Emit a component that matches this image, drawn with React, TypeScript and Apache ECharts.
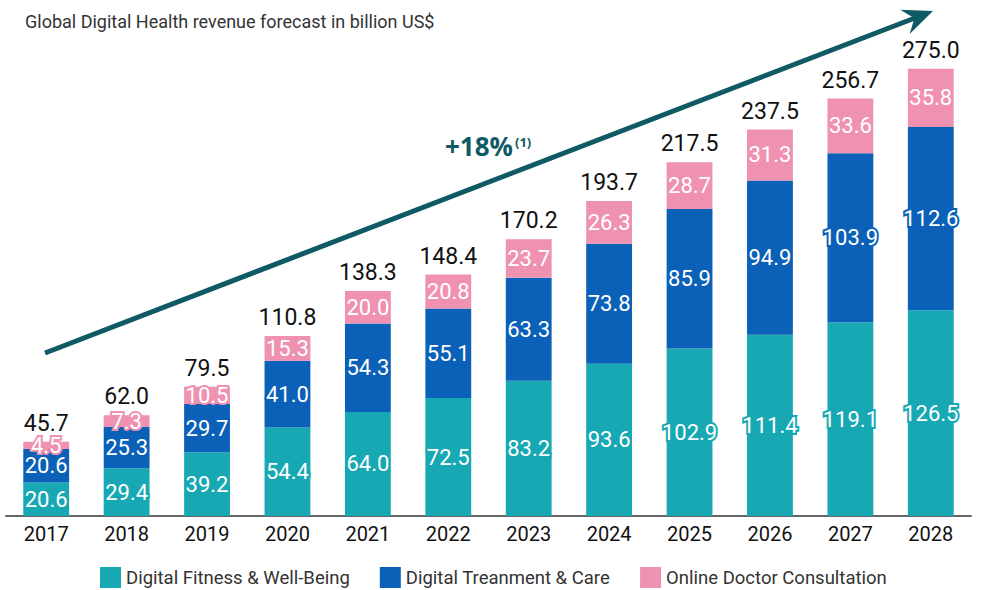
import React, { useEffect, useRef } from "react";
import * as echarts from "echarts";

const years = ["2017", "2018", "2019", "2020", "2021", "2022", "2023", "2024", "2025", "2026", "2027", "2028"];
const fitness = [20.6, 29.4, 39.2, 54.4, 64.0, 72.5, 83.2, 93.6, 102.9, 111.4, 119.1, 126.5];
const treatment = [20.6, 25.3, 29.7, 41.0, 54.3, 55.1, 63.3, 73.8, 85.9, 94.9, 103.9, 112.6];
const consultation = [4.5, 7.3, 10.5, 15.3, 20.0, 20.8, 23.7, 26.3, 28.7, 31.3, 33.6, 35.8];
const totals = [45.7, 62.0, 79.5, 110.8, 138.3, 148.4, 170.2, 193.7, 217.5, 237.5, 256.7, 275.0];

const TEAL = "#17A8B4";
const BLUE = "#0A61B7";
const PINK = "#EF91B0";
const ARROW = "#0F5A64";

export default function App() {
  const ref = useRef<HTMLDivElement>(null);
  useEffect(() => {
    document.body.style.margin = "0";
    const chart = echarts.init(ref.current!, null, { renderer: "svg" });
    const inner = (color: string) => ({
      show: true,
      position: "inside",
      color: "#fff",
      fontSize: 22,
      fontFamily: "Roboto",
      textBorderColor: color,
      textBorderWidth: 4,
      formatter: (p: any) => Number(p.value).toFixed(1),
    });
    // arrow geometry
    const x1 = 45, y1 = 353, tx = 933, ty = 11;
    const dx = tx - x1, dy = ty - y1;
    const len = Math.sqrt(dx * dx + dy * dy);
    const ux = dx / len, uy = dy / len;
    const nx = -uy, ny = ux;
    const hl = 30, hw = 13;
    const bx = tx - hl * ux, by = ty - hl * uy;
    const notchX = tx - 20 * ux, notchY = ty - 20 * uy;
    chart.setOption({
      animation: false,
      textStyle: { fontFamily: "Roboto" },
      title: {
        text: "Global Digital Health revenue forecast in billion US$",
        left: 20,
        top: 7,
        textStyle: { fontSize: 18, fontWeight: "normal", color: "#333", fontFamily: "Roboto" },
      },
      grid: { left: 6, right: 10, top: 28, bottom: 74 },
      legend: {
        data: ["Digital Fitness & Well-Being", "Digital Treanment & Care", "Online Doctor Consultation"],
        top: 567,
        left: 100,
        icon: "rect",
        itemWidth: 21,
        itemHeight: 21,
        itemGap: 30,
        padding: 0,
        textStyle: { fontSize: 18.5, color: "#333", fontFamily: "Roboto" },
      },
      xAxis: {
        type: "category",
        data: years,
        axisLine: { lineStyle: { color: "#666", width: 2 } },
        axisTick: { show: false },
        axisLabel: { fontSize: 20, color: "#111", margin: 8 },
      },
      yAxis: { type: "value", min: 0, max: 300, show: false, splitLine: { show: false } },
      series: [
        { name: "Digital Fitness & Well-Being", type: "bar", stack: "t", barWidth: "57%", data: fitness, itemStyle: { color: TEAL }, label: inner(TEAL) },
        { name: "Digital Treanment & Care", type: "bar", stack: "t", data: treatment, itemStyle: { color: BLUE }, label: inner(BLUE) },
        { name: "Online Doctor Consultation", type: "bar", stack: "t", data: consultation, itemStyle: { color: PINK }, label: inner(PINK) },
        {
          name: "Total",
          type: "bar",
          stack: "t",
          data: totals.map(() => 0),
          itemStyle: { color: "transparent" },
          label: {
            show: true,
            position: "top",
            distance: 7,
            fontSize: 23,
            color: "#111",
            formatter: (p: any) => totals[p.dataIndex].toFixed(1),
          },
        },
      ],
      graphic: [
        {
          type: "line",
          shape: { x1, y1, x2: notchX + 2 * ux, y2: notchY + 2 * uy },
          style: { stroke: ARROW, lineWidth: 5 },
          z: 10,
        },
        {
          type: "polygon",
          shape: {
            points: [
              [tx, ty],
              [bx + hw * nx, by + hw * ny],
              [notchX, notchY],
              [bx - hw * nx, by - hw * ny],
            ],
          },
          style: { fill: ARROW },
          z: 10,
        },
        {
          type: "text",
          left: 445,
          top: 133,
          style: { text: "+18%", fontSize: 26, fontWeight: "bold", fill: ARROW, fontFamily: "Open Sans" },
          z: 10,
        },
        {
          type: "text",
          left: 515,
          top: 135,
          style: { text: "(1)", fontSize: 13, fontWeight: "bold", fill: ARROW, fontFamily: "Open Sans" },
          z: 10,
        },
      ],
    });
    return () => chart.dispose();
  }, []);
  return <div ref={ref} style={{ width: 981, height: 590 }} />;
}
